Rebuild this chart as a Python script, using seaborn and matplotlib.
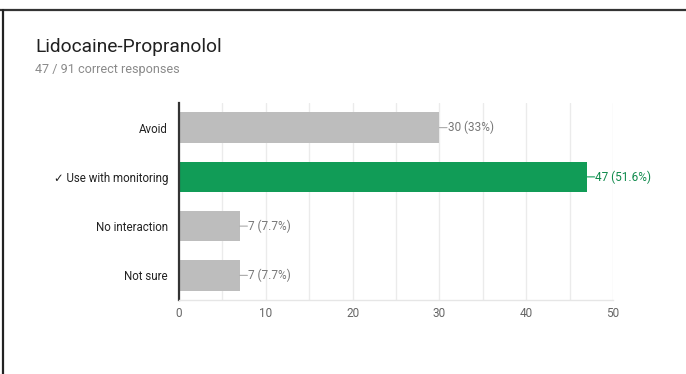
import matplotlib
matplotlib.use("Agg")
import matplotlib.pyplot as plt
from matplotlib.lines import Line2D
import seaborn as sns
import pandas as pd

answers = ["Avoid", "\u2713 Use with monitoring", "No interaction", "Not sure"]
counts = [30, 47, 7, 7]
pct_labels = ["33%", "51.6%", "7.7%", "7.7%"]
correct = [False, True, False, False]
title = "Lidocaine-Propranolol"
subtitle = "47 / 91 correct responses"
x_ticks = [0, 10, 20, 30, 40, 50]

GREEN = "#119c57"
GRAY = "#bdbdbd"

sns.set_theme(style="white")
plt.rcParams["font.family"] = ["Roboto", "DejaVu Sans"]

df = pd.DataFrame({"answer": answers, "count": counts})
colors = [GREEN if c else GRAY for c in correct]

fig = plt.figure(figsize=(6.86, 3.74), dpi=100)
ax = fig.add_axes([179 / 686, 1 - 300 / 374, (613 - 179) / 686, (300 - 103) / 374])

sns.barplot(data=df, y="answer", x="count", hue="answer", palette=colors,
            orient="h", width=0.62, legend=False, ax=ax, saturation=1,
            edgecolor="none")

ax.set_xlim(0, 50)
ax.set_ylim(3.5, -0.5)
ax.set_xticks(x_ticks)
ax.set_xticks(range(0, 51, 5), minor=True)
ax.grid(axis="x", which="both", color="#ebebeb", linewidth=1)
ax.set_axisbelow(True)
ax.set_xlabel("")
ax.set_ylabel("")

for side in ["top", "right"]:
    ax.spines[side].set_visible(False)
ax.spines["bottom"].set_color("#e6e6e6")
ax.spines["bottom"].set_linewidth(1)
ax.spines["left"].set_color("#333333")
ax.spines["left"].set_linewidth(1.6)

ax.tick_params(axis="x", which="both", length=0, labelsize=8.5, labelcolor="#666666", pad=5)
ax.tick_params(axis="y", length=0, labelsize=8.3, labelcolor="#222222", pad=8)

for i, (n, p, ok) in enumerate(zip(counts, pct_labels, correct)):
    col = "#0f8a4c" if ok else "#777777"
    lcol = GREEN if ok else "#aaaaaa"
    ax.annotate("", xy=(n, i), xytext=(5.5, 0), textcoords="offset points",
                xycoords="data",
                arrowprops=dict(arrowstyle="-", color=lcol, lw=0.8,
                                shrinkA=0, shrinkB=0))
    ax.annotate(f"{n} ({p})", xy=(n, i), xytext=(6, 0), textcoords="offset points",
                va="center", ha="left", fontsize=8.5, color=col)

fig.text(35 / 686, 1 - 47 / 374, title, fontsize=13.8, color="#212121", va="center", ha="left")
fig.text(35 / 686, 1 - 69 / 374, subtitle, fontsize=9.1, color="#8a8a8a", va="center", ha="left")

# frame edges along the top and left of the card
fig.add_artist(Line2D([0, 1], [1 - 9.5 / 374] * 2, color="#333333", linewidth=1.6,
                      transform=fig.transFigure))
fig.add_artist(Line2D([2.5 / 686] * 2, [0, 1 - 9.5 / 374], color="#222222", linewidth=1.6,
                      transform=fig.transFigure))

fig.savefig("out.png", dpi=100)
